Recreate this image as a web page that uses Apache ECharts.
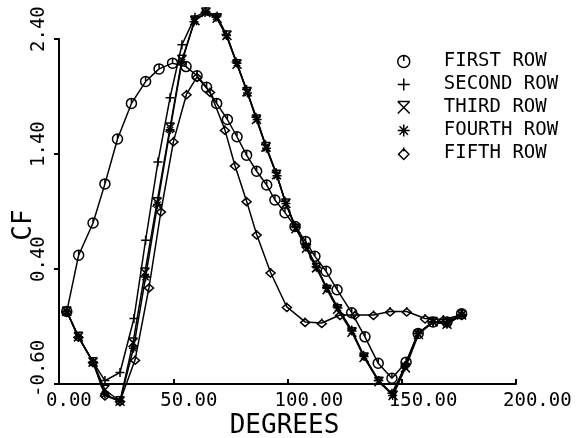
<!DOCTYPE html>
<html>
<head>
<meta charset="utf-8">
<script src="https://cdn.jsdelivr.net/npm/echarts@6/dist/echarts.min.js"></script>
<style>
html,body{margin:0;padding:0;background:#fff;}
#chart{width:577px;height:438px;}
</style>
</head>
<body>
<div id="chart"></div>
<script>
// ---- data (degrees, CF) ----
const seriesNames = ['FIRST ROW', 'SECOND ROW', 'THIRD ROW', 'FOURTH ROW', 'FIFTH ROW'];

const degFirst = [3.4, 8.6, 14.9, 20.1, 25.6, 31.7, 37.9, 43.8, 49.7, 55.6, 60.4, 64.6, 69.0, 73.7, 77.9, 82.1, 86.5, 90.9, 94.5, 98.9, 103.3, 107.9, 112.0, 116.9, 121.7, 128.1, 133.9, 139.7, 145.7, 151.9, 157.2, 163.7, 169.8, 176.2];
const cfFirst  = [0.03, 0.52, 0.80, 1.14, 1.53, 1.84, 2.03, 2.14, 2.19, 2.16, 2.08, 1.98, 1.84, 1.70, 1.55, 1.39, 1.25, 1.13, 1.00, 0.89, 0.77, 0.64, 0.51, 0.38, 0.22, 0.02, -0.19, -0.42, -0.55, -0.41, -0.16, -0.06, -0.06, 0.01];

const degSecond = [3.4, 8.5, 14.9, 20.1, 26.7, 32.8, 37.9, 43.3, 48.6, 53.8, 59.5, 64.3, 69.2, 73.1, 77.5, 82.1, 86.2, 90.4, 95.0, 98.9, 103.3, 108.1, 112.5, 117.1, 121.7, 128.1, 133.3, 139.7, 145.7, 151.4, 157.2, 163.7, 169.8, 176.2];
const cfSecond  = [0.03, -0.19, -0.41, -0.57, -0.50, -0.03, 0.65, 1.33, 1.89, 2.35, 2.59, 2.64, 2.60, 2.44, 2.20, 1.96, 1.72, 1.48, 1.24, 0.99, 0.77, 0.59, 0.42, 0.24, 0.07, -0.13, -0.35, -0.57, -0.68, -0.45, -0.16, -0.06, -0.07, 0.00];

const degThird = [3.4, 8.5, 14.9, 20.1, 26.7, 32.4, 37.6, 42.9, 48.6, 53.8, 59.5, 64.3, 69.2, 73.5, 77.9, 82.3, 86.4, 90.6, 95.2, 99.3, 103.7, 108.3, 112.7, 117.3, 121.9, 128.2, 133.5, 140.0, 146.2, 151.6, 157.3, 163.7, 169.8, 176.2];
const cfThird  = [0.03, -0.19, -0.41, -0.65, -0.75, -0.24, 0.37, 0.98, 1.63, 2.22, 2.56, 2.63, 2.58, 2.43, 2.18, 1.94, 1.70, 1.46, 1.22, 0.97, 0.75, 0.58, 0.41, 0.22, 0.05, -0.15, -0.37, -0.58, -0.70, -0.46, -0.17, -0.06, -0.08, 0.00];

const degFourth = [3.4, 8.5, 14.9, 20.1, 26.7, 32.6, 37.9, 43.1, 48.6, 53.8, 59.1, 63.9, 68.7, 73.3, 77.9, 82.5, 86.7, 90.8, 95.4, 99.3, 103.7, 108.1, 112.9, 117.3, 122.1, 128.2, 133.5, 140.0, 146.0, 151.4, 157.1, 163.7, 169.8, 176.2];
const cfFourth  = [0.03, -0.19, -0.41, -0.69, -0.75, -0.29, 0.33, 0.96, 1.61, 2.20, 2.55, 2.63, 2.59, 2.43, 2.19, 1.93, 1.70, 1.45, 1.21, 0.97, 0.76, 0.60, 0.41, 0.23, 0.06, -0.14, -0.36, -0.57, -0.70, -0.44, -0.16, -0.06, -0.08, 0.00];

const degFifth = [3.4, 8.5, 14.9, 20.1, 26.7, 33.3, 39.4, 44.6, 50.1, 55.8, 60.4, 66.1, 72.6, 77.0, 82.1, 86.5, 92.6, 99.7, 107.7, 115.0, 123.0, 129.5, 137.6, 144.9, 152.2, 160.2, 168.2, 176.2];
const cfFifth  = [0.03, -0.19, -0.41, -0.70, -0.75, -0.39, 0.24, 0.90, 1.51, 1.92, 2.07, 1.94, 1.61, 1.30, 0.99, 0.70, 0.37, 0.07, -0.06, -0.07, 0.00, 0.00, 0.00, 0.03, 0.03, -0.03, -0.04, 0.00];

const xTicks = {min: 0, max: 200, step: 50};
const yTicks = {min: -0.6, max: 2.4, step: 1.0};

// ---- symbols ----
const symCircle  = 'path://M5 0 A5 5 0 1 1 4.99 0 Z M5 0 L5 4.5';
const symPlus    = 'path://M5 0 L5 10 M0 5 L10 5';
const symX       = 'path://M0 0 L10 0 M0 0 L10 10 M10 0 L0 10';
const symStar    = 'path://M5 0 L5 10 M0 5 L10 5 M1.5 1.5 L8.5 8.5 M8.5 1.5 L1.5 8.5';
const symDiamond = 'path://M5 1.5 L10 6.5 L5 11.5 L0 6.5 Z M5 0 L5 3.5';
const symbols = [symCircle, symPlus, symX, symStar, symDiamond];

const allData = [
  [degFirst, cfFirst],
  [degSecond, cfSecond],
  [degThird, cfThird],
  [degFourth, cfFourth],
  [degFifth, cfFifth]
];

const FONT = 'DejaVu Sans Mono';

const chart = echarts.init(document.getElementById('chart'), null, {renderer: 'canvas'});

const series = allData.map((d, i) => ({
  name: seriesNames[i],
  type: 'line',
  data: d[0].map((x, k) => [x, d[1][k]]),
  symbol: symbols[i],
  symbolSize: i === 0 ? 10 : 9,
  showAllSymbol: true,
  clip: false,
  lineStyle: {color: '#000', width: 1.5},
  itemStyle: {color: 'rgba(0,0,0,0)', borderColor: '#000', borderWidth: 1.5},
  emphasis: {disabled: true},
  z: 5 - i
}));

chart.setOption({
  animation: false,
  backgroundColor: '#fff',
  grid: {left: 59, right: 61, top: 39, bottom: 54, containLabel: false, outerBoundsMode: 'none'},
  legend: {
    orient: 'vertical',
    left: 392,
    top: 47,
    itemWidth: 12,
    itemHeight: 12,
    itemGap: 4,
    data: seriesNames.map((n, i) => ({name: n, icon: symbols[i]})),
    itemStyle: {color: 'rgba(0,0,0,0)', borderColor: '#000', borderWidth: 1.5},
    textStyle: {fontFamily: FONT, fontSize: 19, lineHeight: 19, color: '#000', padding: [0, 0, 0, 29]},
    selectedMode: false
  },
  xAxis: {
    type: 'value',
    min: xTicks.min, max: xTicks.max, interval: xTicks.step,
    name: 'DEGREES',
    nameLocation: 'middle',
    nameGap: 29,
    nameMoveOverlap: false,
    nameTextStyle: {fontFamily: FONT, fontSize: 26, color: '#000', padding: [0, 6, 0, 0]},
    axisLine: {onZero: false, lineStyle: {color: '#000', width: 2}},
    axisTick: {inside: true, length: 5, lineStyle: {color: '#000', width: 2}},
    splitLine: {show: false},
    axisLabel: {
      fontFamily: FONT, fontSize: 19, color: '#000', margin: 8,
      align: 'left', padding: [0, 0, 0, -13],
      formatter: v => v.toFixed(2)
    }
  },
  yAxis: {
    type: 'value',
    min: yTicks.min, max: yTicks.max, interval: yTicks.step,
    name: 'CF',
    nameLocation: 'middle',
    nameRotate: 90,
    nameGap: 22,
    nameMoveOverlap: false,
    nameTextStyle: {fontFamily: FONT, fontSize: 26, color: '#000', padding: [0, 27, 0, 0]},
    axisLine: {onZero: false, lineStyle: {color: '#000', width: 2}},
    axisTick: {inside: false, length: 5, lineStyle: {color: '#000', width: 2}},
    splitLine: {show: false},
    axisLabel: {
      fontFamily: FONT, fontSize: 19, color: '#000', margin: 10,
      rotate: 90, align: 'left', verticalAlign: 'bottom', padding: [0, 0, 0, -13],
      formatter: v => v.toFixed(2)
    }
  },
  series: series
});
</script>
</body>
</html>
